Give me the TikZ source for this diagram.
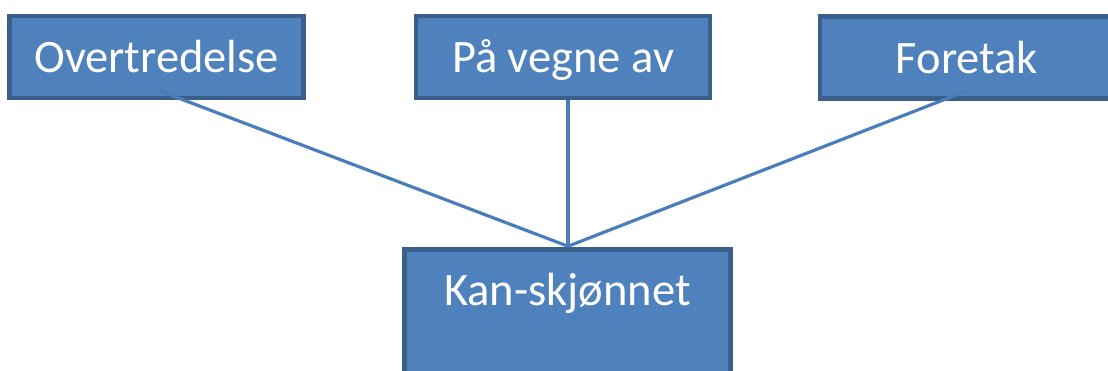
\documentclass[tikz,border=0pt]{standalone}
\usepackage{fontspec}
\setmainfont{Carlito}
\usetikzlibrary{calc}
\definecolor{boxfill}{HTML}{4F81BD}
\definecolor{boxline}{HTML}{3A5F8B}
\definecolor{conline}{HTML}{4A7EBB}
\tikzset{
  topbox/.style={draw=boxline, line width=4.5pt, fill=boxfill, text=white,
    font=\fontsize{46.5}{56}\selectfont, minimum width=294pt, minimum height=82pt,
    inner sep=0pt, text height=32pt, text depth=0pt},
  bottombox/.style={draw=boxline, line width=4.5pt, fill=boxfill, text=white,
    font=\fontsize{46.5}{56}\selectfont, minimum width=326pt, anchor=north,
    inner xsep=0pt, inner ysep=23.75pt, text height=32pt, text depth=120pt},
  conn/.style={draw=conline, line width=3.2pt}
}
\begin{document}
\begin{tikzpicture}[x=1pt,y=-1pt]
\useasboundingbox (0,0) rectangle (1108,371);
\clip (0,0) rectangle (1108,371);
\node[topbox] (ov) at (156.5,57) {Overtredelse};
\node[topbox] (pv) at (563,57) {På vegne av};
\node[topbox] (fo) at (967,57.5) {Foretak};
\node[bottombox] (ks) at (567.5,247.25) {Kan-skjønnet};
\coordinate (ovs) at ($(ov.south)+(1.5,-10)$);
\coordinate (fos) at ($(fo.south)+(0,-10)$);
\coordinate (pvs) at ($(pv.south)+(5,0)$);
\coordinate (ksn) at ($(ks.north)+(0.5,-1)$);
\draw[conn] (ovs) -- (ksn);
\draw[conn] (pvs) -- (ksn);
\draw[conn] (fos) -- (ksn);
\end{tikzpicture}
\end{document}
